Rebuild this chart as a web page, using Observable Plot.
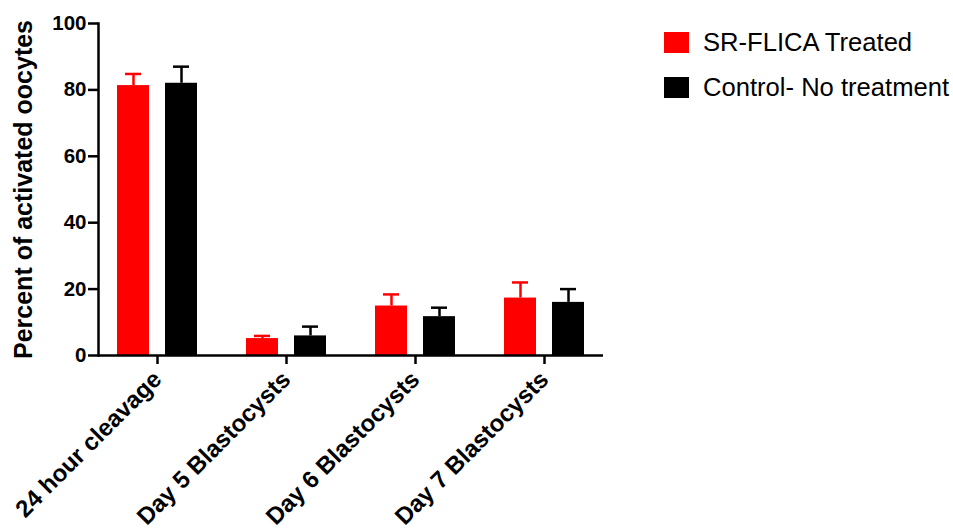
<!DOCTYPE html>
<html>
<head>
<meta charset="utf-8">
<script src="https://cdn.jsdelivr.net/npm/d3@7"></script>
<script src="https://cdn.jsdelivr.net/npm/@observablehq/plot@0.6"></script>
<style>
  html, body { margin: 0; padding: 0; background: #fff; }
  #wrap { position: relative; width: 953px; height: 531px; font-family: "Liberation Sans", Arial, sans-serif; }
  .legend { position: absolute; left: 664px; top: 27px; }
  .item { display: flex; align-items: center; height: 30px; margin-bottom: 15px; font-size: 25.6px; color: #000; }
  .sw { width: 25px; height: 21px; margin-right: 14px; }
</style>
</head>
<body>
<div id="wrap"></div>
<script>
const categories = ["24 hour cleavage", "Day 5 Blastocysts", "Day 6 Blastocysts", "Day 7 Blastocysts"];
const series = ["SR-FLICA Treated", "Control- No treatment"];
const treated = [81.3, 5.1, 14.9, 17.3];
const treatedErr = [3.5, 0.8, 3.5, 4.7];
const control = [82.0, 5.9, 11.7, 16.0];
const controlErr = [5.0, 2.8, 2.7, 4.0];
const colors = ["#ff0000", "#000000"];
const yTicks = [0, 20, 40, 60, 80, 100];

const rowsT = categories.map((c, i) => ({category: c, series: series[0], value: treated[i], err: treatedErr[i]}));
const rowsC = categories.map((c, i) => ({category: c, series: series[1], value: control[i], err: controlErr[i]}));

const font = '"Liberation Sans", Arial, sans-serif';

const chart = Plot.plot({
  width: 953,
  height: 531,
  marginLeft: 98,
  marginRight: 350,
  marginTop: 23,
  marginBottom: 176,
  style: {fontFamily: font, background: "white", overflow: "visible"},
  x: {domain: categories, paddingInner: 0.38, paddingOuter: 0.143, label: null},
  y: {domain: [0, 100], label: null},
  marks: [
    Plot.ruleX(rowsT, {x: "category", y1: "value", y2: d => d.value + d.err, dx: -24, stroke: colors[0], strokeWidth: 2.5}),
    Plot.tickY(rowsT, {x: "category", y: d => d.value + d.err, insetLeft: 8, insetRight: 56, stroke: colors[0], strokeWidth: 2.5}),
    Plot.ruleX(rowsC, {x: "category", y1: "value", y2: d => d.value + d.err, dx: 24, stroke: colors[1], strokeWidth: 2.5}),
    Plot.tickY(rowsC, {x: "category", y: d => d.value + d.err, insetLeft: 56, insetRight: 8, stroke: colors[1], strokeWidth: 2.5}),
    Plot.barY(rowsT, {x: "category", y: "value", fill: colors[0], insetLeft: 0, insetRight: 48}),
    Plot.barY(rowsC, {x: "category", y: "value", fill: colors[1], insetLeft: 48, insetRight: 0}),
    Plot.ruleY([0], {stroke: "#000", strokeWidth: 2.5}),
    Plot.frame({anchor: "left", stroke: "#000", strokeWidth: 2.5}),
    Plot.axisY({ticks: yTicks, tickSize: 10, tickPadding: 2, fontSize: 20.5, fontWeight: "bold", strokeWidth: 2.5, label: "Percent of activated oocytes", labelAnchor: "center", labelArrow: "none", labelOffset: 84, fill: "#000"}),
    Plot.axisX({tickSize: 9, tickPadding: 11, tickRotate: -45, fontSize: 24, fontWeight: "bold", strokeWidth: 2.5, label: null, fill: "#000"})
  ]
});

const wrap = document.getElementById("wrap");
wrap.appendChild(chart);

const legend = document.createElement("div");
legend.className = "legend";
series.forEach((s, i) => {
  const item = document.createElement("div");
  item.className = "item";
  const sw = document.createElement("div");
  sw.className = "sw";
  sw.style.background = colors[i];
  const t = document.createElement("span");
  t.textContent = s;
  item.appendChild(sw);
  item.appendChild(t);
  legend.appendChild(item);
});
wrap.appendChild(legend);

d3.select(chart).selectAll("g[aria-label='y-axis label'] text").attr("font-size", 25).attr("font-weight", "bold");
</script>
</body>
</html>
